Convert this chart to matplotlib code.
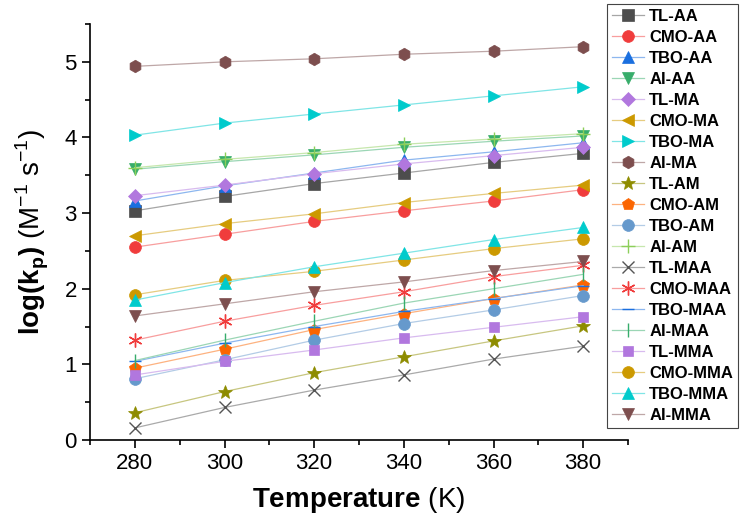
import matplotlib
matplotlib.use("Agg")
import matplotlib.pyplot as plt
from matplotlib.colors import to_rgb
from matplotlib.ticker import MultipleLocator

plt.rcParams["font.family"] = ["Liberation Sans", "DejaVu Sans"]
plt.rcParams["mathtext.fontset"] = "custom"
plt.rcParams["mathtext.rm"] = "Liberation Sans"
plt.rcParams["mathtext.bf"] = "Liberation Sans:bold"

# temperatures (K)
temps = [280, 300, 320, 340, 360, 380]

labels = ["TL-AA", "CMO-AA", "TBO-AA", "AI-AA", "TL-MA", "CMO-MA", "TBO-MA", "AI-MA",
          "TL-AM", "CMO-AM", "TBO-AM", "AI-AM", "TL-MAA", "CMO-MAA", "TBO-MAA", "AI-MAA",
          "TL-MMA", "CMO-MMA", "TBO-MMA", "AI-MMA"]

tl_aa = [3.03, 3.22, 3.39, 3.53, 3.67, 3.79]
cmo_aa = [2.55, 2.72, 2.89, 3.03, 3.16, 3.31]
tbo_aa = [3.16, 3.36, 3.53, 3.70, 3.81, 3.93]
ai_aa = [3.58, 3.68, 3.77, 3.87, 3.95, 4.02]
tl_ma = [3.23, 3.37, 3.52, 3.65, 3.76, 3.87]
cmo_ma = [2.70, 2.86, 2.99, 3.14, 3.26, 3.37]
tbo_ma = [4.03, 4.19, 4.31, 4.43, 4.55, 4.67]
ai_ma = [4.94, 5.00, 5.04, 5.10, 5.14, 5.20]
tl_am = [0.36, 0.64, 0.89, 1.10, 1.31, 1.51]
cmo_am = [0.95, 1.20, 1.46, 1.67, 1.87, 2.05]
tbo_am = [0.81, 1.06, 1.32, 1.54, 1.72, 1.91]
ai_am = [3.60, 3.71, 3.80, 3.91, 3.98, 4.05]
tl_maa = [0.16, 0.43, 0.66, 0.86, 1.07, 1.24]
cmo_maa = [1.32, 1.57, 1.78, 1.96, 2.16, 2.31]
tbo_maa = [1.04, 1.28, 1.50, 1.70, 1.87, 2.04]
ai_maa = [1.05, 1.32, 1.57, 1.81, 2.00, 2.19]
tl_mma = [0.86, 1.04, 1.19, 1.35, 1.49, 1.63]
cmo_mma = [1.92, 2.11, 2.23, 2.38, 2.53, 2.66]
tbo_mma = [1.85, 2.08, 2.29, 2.47, 2.65, 2.81]
ai_mma = [1.64, 1.80, 1.96, 2.09, 2.24, 2.36]

series = [tl_aa, cmo_aa, tbo_aa, ai_aa, tl_ma, cmo_ma, tbo_ma, ai_ma,
          tl_am, cmo_am, tbo_am, ai_am, tl_maa, cmo_maa, tbo_maa, ai_maa,
          tl_mma, cmo_mma, tbo_mma, ai_mma]

colors = ["#4d4d4d", "#f03c3c", "#1a6fdf", "#37ad6b", "#b177de", "#cc9900", "#00cbcc", "#7d4e4e",
          "#8e8c00", "#fb6501", "#6699cc", "#8ccf5a", "#555555", "#f03c3c", "#1a6fdf", "#37ad6b",
          "#b177de", "#cc9900", "#00cbcc", "#7d4e4e"]
asterisk = (6, 2, 0)
markers = ["s", "o", "^", "v", "D", "<", ">", "h",
           "*", "p", "o", "+", "x", asterisk, "_", "|",
           "s", "o", "^", "v"]
sizes = [8, 8.5, 8.5, 8.5, 7.5, 8.5, 8.5, 9,
         10, 9, 8.5, 10, 9, 10, 9, 10,
         7.5, 8.5, 8.5, 8.5]


def lighten(c, f=0.5):
    r, g, b = to_rgb(c)
    return (r + (1 - r) * f, g + (1 - g) * f, b + (1 - b) * f)


fig = plt.figure(figsize=(7.42, 5.30), dpi=100)
ax = fig.add_axes([90 / 742, 90 / 530, 538 / 742, 416 / 530])

for lab, vals, c, m, s in zip(labels, series, colors, markers, sizes):
    thin = m in ("+", "x", "_", "|", asterisk)
    ax.plot(temps, vals, color=lighten(c), lw=0.9, marker=m, ms=s,
            markerfacecolor=c, markeredgecolor=c,
            markeredgewidth=1.0 if thin else 0.5, label=lab)

ax.set_xlim(270, 390)
ax.set_ylim(0, 5.5)
ax.xaxis.set_major_locator(MultipleLocator(20))
ax.xaxis.set_minor_locator(MultipleLocator(10))
ax.yaxis.set_major_locator(MultipleLocator(1))
ax.yaxis.set_minor_locator(MultipleLocator(0.5))
ax.spines["top"].set_visible(False)
ax.spines["right"].set_visible(False)
for sp in ("left", "bottom"):
    ax.spines[sp].set_linewidth(1.2)
ax.tick_params(which="major", direction="out", length=6, width=1.2, labelsize=16)
ax.tick_params(which="minor", direction="out", length=3.5, width=1.2)

ax.set_xlabel(r"$\mathbf{Temperature}$ (K)", fontsize=20, labelpad=8)
ax.set_ylabel(r"$\mathbf{log(k_p)}$ (M$^{-1}$ s$^{-1}$)", fontsize=20, labelpad=10)

leg = fig.legend(loc="upper right", bbox_to_anchor=(738 / 742, 1 - 4 / 530),
                 borderaxespad=0, fancybox=False, framealpha=1, edgecolor="#444444",
                 prop={"weight": "bold", "size": 12}, handlelength=1.9,
                 labelspacing=0.36, handletextpad=0.3, borderpad=0.3)
leg.get_frame().set_linewidth(0.8)

fig.savefig("out.png", dpi=100)
